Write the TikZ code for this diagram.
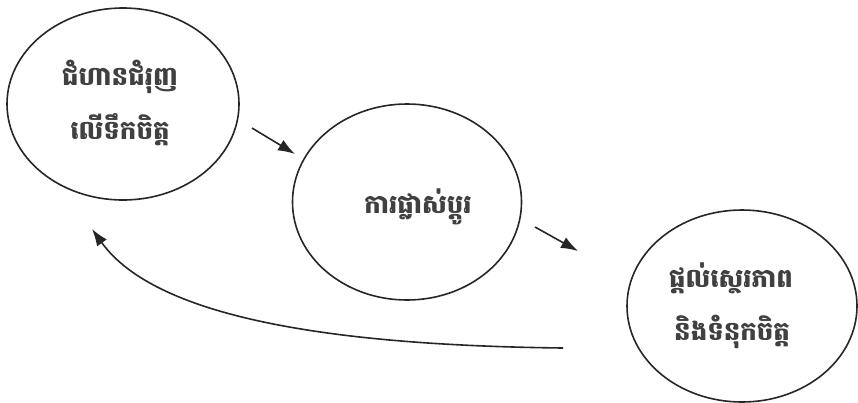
\documentclass[tikz,border=0pt]{standalone}
\usepackage{fontspec}
\newfontfamily\khmer[Script=Khmer]{Battambang}
\usetikzlibrary{arrows.meta,shapes.geometric}
\begin{document}
\begin{tikzpicture}[x=1pt,y=-1pt,
  bubble/.style={draw=black!85,line width=1.6pt,ellipse,inner sep=0pt},
  lbl/.style={font=\khmer\bfseries\fontsize{26}{50}\selectfont,text=black!75,align=center},
  conn/.style={draw=black!85,line width=1.6pt,-{Latex[length=17pt,width=12pt]}}]
\useasboundingbox (0,0) rectangle (858,402);
\node (e1) [bubble,minimum width=232pt,minimum height=192pt] at (123,104) {};
\node (e2) [bubble,minimum width=229pt,minimum height=196pt] at (407,202) {};
\node (e3) [bubble,minimum width=230pt,minimum height=192pt] at (742,306) {};
\node (t1a) [lbl] at (120,77) {ជំហានជំរុញ};
\node (t1b) [lbl] at (120,130) {លើទឹកចិត្ត};
\node (t2) [lbl] at (418,207) {ការផ្លាស់ប្តូរ};
\node (t3a) [lbl] at (731,278) {ផ្តល់ស្ថេរភាព};
\node (t3b) [lbl] at (732,332) {និងទំនុកចិត្ត};
\coordinate (a1s) at (252,128);
\coordinate (a1e) at (295,154);
\coordinate (a2s) at (535,227);
\coordinate (a2e) at (578,251);
\coordinate (bs) at (563,348);
\coordinate (be) at (92,229);
\draw[conn] (a1s) -- (a1e);
\draw[conn] (a2s) -- (a2e);
\draw[conn] (bs) .. controls (300,345) and (150,310) .. (be);
\end{tikzpicture}
\end{document}
